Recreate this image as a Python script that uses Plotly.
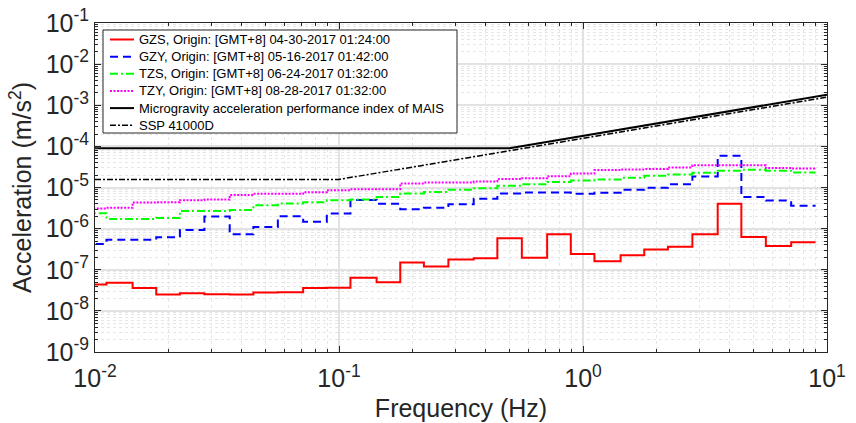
import plotly.graph_objects as go

# 1/3-octave band nominal centre frequencies (Hz)
band_centers = [0.01, 0.0125, 0.016, 0.02, 0.025, 0.0315, 0.04, 0.05, 0.063, 0.08,
                0.1, 0.125, 0.16, 0.2, 0.25, 0.315, 0.4, 0.5, 0.63, 0.8,
                1.0, 1.25, 1.6, 2.0, 2.5, 3.15, 4.0, 5.0, 6.3, 8.0]

gzs = [4.4e-8, 4.8e-8, 3.6e-8, 2.5e-8, 2.7e-8, 2.55e-8, 2.5e-8, 2.8e-8, 2.85e-8, 3.6e-8,
       3.65e-8, 6.4e-8, 5.0e-8, 1.5e-7, 1.2e-7, 1.78e-7, 1.9e-7, 5.8e-7, 1.96e-7, 7.3e-7,
       2.4e-7, 1.6e-7, 2.25e-7, 3.1e-7, 3.65e-7, 7.3e-7, 4.0e-6, 6.3e-7, 3.8e-7, 4.65e-7]

gzy = [4.2e-7, 5.4e-7, 5.4e-7, 6.15e-7, 9.3e-7, 1.96e-6, 7.3e-7, 1.1e-6, 2.0e-6, 1.46e-6,
       2.32e-6, 5.0e-6, 4.0e-6, 2.96e-6, 3.2e-6, 3.9e-6, 5.3e-6, 7.1e-6, 7.55e-6, 7.55e-6,
       7.0e-6, 7.5e-6, 8.8e-6, 9.8e-6, 1.2e-5, 1.85e-5, 5.9e-5, 5.9e-6, 4.8e-6, 3.6e-6]

tzs = [2.37e-6, 1.72e-6, 1.72e-6, 1.82e-6, 2.7e-6, 2.7e-6, 2.85e-6, 3.7e-6, 4.07e-6, 4.4e-6,
       4.9e-6, 5.1e-6, 5.9e-6, 7.1e-6, 7.8e-6, 8.8e-6, 9.6e-6, 1.1e-5, 1.2e-5, 1.37e-5,
       1.48e-5, 1.57e-5, 1.72e-5, 1.92e-5, 2.07e-5, 2.28e-5, 2.55e-5, 2.7e-5, 2.55e-5, 2.32e-5]

tzy = [3.08e-6, 3.2e-6, 4.3e-6, 4.4e-6, 4.9e-6, 5.1e-6, 6.6e-6, 7.0e-6, 7.0e-6, 7.7e-6,
       8.6e-6, 9.1e-6, 9.1e-6, 1.25e-5, 1.32e-5, 1.32e-5, 1.4e-5, 1.6e-5, 1.69e-5, 1.89e-5,
       2.19e-5, 2.65e-5, 2.75e-5, 2.8e-5, 3.08e-5, 3.5e-5, 3.5e-5, 3.5e-5, 3.0e-5, 2.9e-5]

# limit curves (break points)
mais_f = [0.01, 0.5, 10.0]
mais_a = [9.0e-5, 9.0e-5, 1.8e-3]
ssp_f = [0.01, 0.1, 10.0]
ssp_a = [1.57e-5, 1.57e-5, 1.57e-3]

names = ["GZS, Origin: [GMT+8] 04-30-2017 01:24:00",
         "GZY, Origin: [GMT+8] 05-16-2017 01:42:00",
         "TZS, Origin: [GMT+8] 06-24-2017 01:32:00",
         "TZY, Origin: [GMT+8] 08-28-2017 01:32:00",
         "Microgravity acceleration performance index of MAIS",
         "SSP 41000D"]

x_tick_vals = [0.01, 0.1, 1, 10]
x_tick_text = ["10<sup>-2</sup>", "10<sup>-1</sup>", "10<sup>0</sup>", "10<sup>1</sup>"]
y_tick_vals = [1e-9, 1e-8, 1e-7, 1e-6, 1e-5, 1e-4, 1e-3, 1e-2, 1e-1]
y_tick_text = ["10<sup>-%d</sup>" % n for n in range(9, 0, -1)]

half = 10 ** 0.05
edges = [c / half for c in band_centers] + [band_centers[-1] * half]


def stepped(vals):
    return vals + [vals[-1]]


styles = [
    ("#ff0000", "solid", 2),
    ("#0000ff", "8px,5px", 2),
    ("#00ff00", "8px,3px,2px,3px", 2),
    ("#ff00ff", "2px,1.5px", 2),
    ("#000000", "solid", 2),
    ("#000000", "6px,2px,2px,2px", 1.5),
]

fig = go.Figure()
for vals, (col, dash, w), nm in zip([gzs, gzy, tzs, tzy], styles[:4], names[:4]):
    fig.add_trace(go.Scatter(x=edges, y=stepped(vals), mode="lines", name=nm, showlegend=False,
                             line=dict(color=col, dash=dash, width=w, shape="hv")))
fig.add_trace(go.Scatter(x=mais_f, y=mais_a, mode="lines", name=names[4], showlegend=False,
                         line=dict(color=styles[4][0], width=styles[4][2])))
fig.add_trace(go.Scatter(x=ssp_f, y=ssp_a, mode="lines", name=names[5], showlegend=False,
                         line=dict(color=styles[5][0], width=styles[5][2], dash=styles[5][1])))

x_minor = [m * 10 ** e for e in range(-2, 1) for m in range(2, 10)]
y_minor = [m * 10 ** e for e in range(-9, -1) for m in range(2, 10)]

tick_font = dict(size=25, color="#262626", family="Liberation Sans")
title_font = dict(size=25, color="#262626", family="Liberation Sans")
axis_common = dict(showline=True, linecolor="#262626", linewidth=1, mirror="ticks",
                   ticks="inside", ticklen=6, tickcolor="#262626", tickwidth=1,
                   showgrid=True, gridcolor="#e2e2e2", gridwidth=1.5, zeroline=False,
                   tickfont=tick_font, automargin=False)

fig.update_xaxes(type="log", range=[-2, 1], tickvals=x_tick_vals, ticktext=x_tick_text,
                 ticklabelstandoff=4,
                 title=dict(text="Frequency (Hz)", font=title_font, standoff=8),
                 minor=dict(tickvals=x_minor, ticks="inside", ticklen=3, tickcolor="#262626",
                            showgrid=True, gridcolor="#e6e6e6", griddash="dot", gridwidth=0.6),
                 **axis_common)
fig.update_yaxes(type="log", range=[-9, -1], tickvals=y_tick_vals, ticktext=y_tick_text,
                 title=dict(text="Acceleration (m/s<sup>2</sup>)", font=title_font, standoff=6),
                 minor=dict(tickvals=y_minor, ticks="inside", ticklen=3, tickcolor="#262626",
                            showgrid=True, gridcolor="#e6e6e6", griddash="dot", gridwidth=0.6),
                 **axis_common)

# ---- custom legend (pixel layout converted to paper coordinates) ----
PL, PT, PW, PH = 95, 23, 732, 329


def px(x):
    return (x - PL) / PW


def py(y):
    return 1 - (y - PT) / PH


shapes = [dict(type="rect", xref="paper", yref="paper", x0=px(103), x1=px(457),
               y0=py(30), y1=py(133), line=dict(color="#262626", width=1),
               fillcolor="white", layer="above")]
annotations = []
for i, (nm, (col, dash, w)) in enumerate(zip(names, styles)):
    yc = 39.5 + 17.15 * i
    shapes.append(dict(type="line", xref="paper", yref="paper", x0=px(110), x1=px(134),
                       y0=py(yc), y1=py(yc), layer="above",
                       line=dict(color=col, width=w, dash=dash)))
    annotations.append(dict(xref="paper", yref="paper", x=px(137), y=py(yc), text=nm,
                            showarrow=False, xanchor="left", yanchor="middle",
                            font=dict(size=13, color="#000000", family="Liberation Sans")))

fig.update_layout(
    width=856, height=423,
    margin=dict(l=95, r=29, t=23, b=71, autoexpand=False),
    paper_bgcolor="white", plot_bgcolor="white",
    font=dict(family="Liberation Sans", color="#262626"),
    showlegend=False,
    shapes=shapes, annotations=annotations,
)

fig.write_html("out.html")
